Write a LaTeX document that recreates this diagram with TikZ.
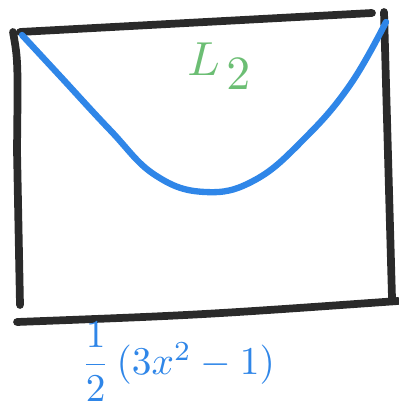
\documentclass[tikz,border=0pt]{standalone}
\usepackage{amsmath}
\usepackage{tikz}
\usetikzlibrary{calc}
\definecolor{skblack}{HTML}{2A2A2A}
\definecolor{skblue}{HTML}{2F86E8}
\definecolor{skgreen}{HTML}{6CBE74}

\begin{document}
\begin{tikzpicture}[
  x=0.25mm, y=-0.25mm,
  frame/.style={draw=skblack, line width=5.5pt, line cap=round, line join=round},
  curve/.style={draw=skblue, line width=4.5pt, line cap=round},
  polyname/.style={text=skgreen, scale=3.4, inner sep=0pt},
  formula/.style={text=skblue, scale=2.8, inner sep=0pt}
]
  \useasboundingbox (0,0) rectangle (398,412);
  % corners of the box
  \coordinate (tl) at (20,32);
  \coordinate (tr) at (372,13);
  \coordinate (rt) at (384,12);
  \coordinate (rb) at (392,298);
  \coordinate (lt) at (13,32);
  \coordinate (lb) at (20,305);
  \coordinate (bl) at (17,322);
  \coordinate (br) at (398,301);
  \draw[frame] (tl) -- (tr);
  \draw[frame] (rt) -- (rb);
  \draw[frame] (lt) .. controls (18,60) .. (17,150) -- (lb);
  \draw[frame] (bl) .. controls (200,315) .. (br);
  % the Legendre curve
  \draw[curve] plot[smooth, tension=0.7] coordinates {
    (22,35) (60,76) (110,130) (155,175) (205,192) (255,180)
    (305,138) (350,85) (386,22)};
  \node[polyname] (lname) at (220,66) {$L_{\,\textstyle 2}$};
  \node[formula] (poly) at (178,362) {$\dfrac{1}{2}\,(3x^2-1)$};
\end{tikzpicture}
\end{document}
